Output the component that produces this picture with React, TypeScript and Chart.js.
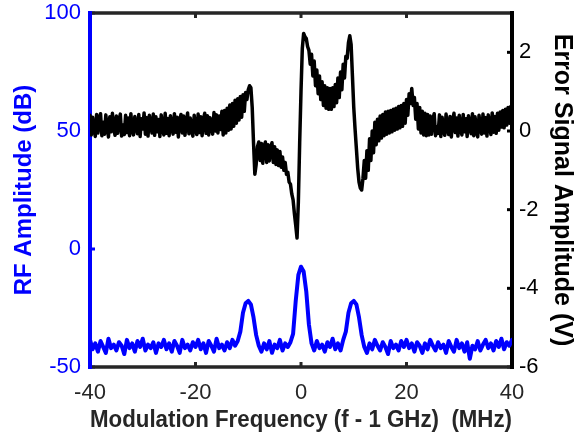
import React, { useEffect, useRef } from 'react';
import { Chart, registerables } from 'chart.js';

Chart.register(...registerables);

// Sampling grids (MHz): error trace every 0.25 MHz, RF trace every 0.5 MHz, both from -40 to 40
const FREQ_START = -40;
const ERR_STEP = 0.25;
const RF_STEP = 0.5;

// Error signal amplitude (V), one value per 0.25 MHz
const ERROR_V = [
  // -40 .. -15.25
  0.40, -0.10, 0.35, 0.05, -0.14, 0.42, -0.05, 0.30, 0.44, -0.12,
  0.22, -0.08, 0.41, 0.10, -0.15, 0.36, -0.02, 0.45, 0.08, -0.11,
  0.38, -0.06, 0.28, 0.43, -0.13, 0.15, -0.09, 0.40, -0.04, 0.33,
  -0.12, 0.44, 0.02, -0.10, 0.37, 0.12, -0.07, 0.42, -0.14, 0.31,
  0.05, 0.46, -0.08, 0.34, -0.13, 0.40, 0.18, -0.05, 0.43, -0.11,
  0.36, -0.02, 0.29, -0.14, 0.41, 0.07, -0.10, 0.45, -0.06, 0.32,
  -0.12, 0.39, 0.10, -0.08, 0.44, -0.03, 0.35, -0.15, 0.27, 0.42,
  -0.05, 0.38, -0.11, 0.20, 0.46, -0.07, 0.33, 0.02, -0.13, 0.40,
  0.08, -0.09, 0.43, -0.04, 0.36, -0.12, 0.30, 0.45, -0.06, 0.39,
  -0.10, 0.34, 0.12, -0.08, 0.47, 0.00, 0.41, -0.05, 0.38, 0.04,
  // -15 .. -10.25
  0.50, -0.10, 0.52, -0.05, 0.58, 0.02, 0.66, 0.05, 0.70, 0.12,
  0.78, 0.20, 0.82, 0.28, 0.88, 0.35, 0.92, 0.50, 0.98, 0.80,
  // -10 .. -8.25
  1.05, 1.15, 1.10, 0.60, -0.30, -1.10, -0.85, -0.40,
  // -8 .. -3.25
  -0.28, -0.75, -0.32, -0.82, -0.38, -0.28, -0.80, -0.35, -0.76, -0.42,
  -0.30, -0.80, -0.40, -0.85, -0.48, -0.88, -0.52, -0.92, -0.66, -1.00,
  // -3 .. -0.75
  -0.80, -1.10, -1.05, -1.30, -1.35, -1.60, -1.75, -2.10, -2.40, -2.72,
  // -0.5 .. 1.75
  -1.80, -0.30, 1.00, 2.10, 2.48, 2.40, 2.35, 2.15, 2.05, 1.70,
  // 2 .. 24.25
  1.95, 1.40, 1.78, 1.15, 1.55, 0.95, 1.40, 0.80, 1.25, 0.65,
  1.15, 0.58, 1.10, 0.55, 1.08, 0.55, 1.10, 0.62, 1.18, 0.72,
  1.35, 0.85, 1.50, 1.05, 1.70, 1.35, 1.90, 1.85, 2.25, 2.42,
  2.20, 1.40, 0.60, 0.05, -0.45, -0.95, -1.30, -1.45, -1.50, -1.20,
  -0.75, -1.20, -0.50, -1.00, -0.20, -0.75, 0.00, -0.55, 0.22, -0.35,
  0.30, -0.25, 0.38, -0.18, 0.42, -0.12, 0.48, -0.08, 0.50, -0.05,
  0.52, -0.02, 0.55, 0.02, 0.58, 0.05, 0.62, 0.08, 0.65, 0.12,
  0.70, 0.20, 0.80, 0.40, 0.95, 0.70, 1.08, 0.65, 0.85, 0.30,
  0.70, 0.05, 0.60, -0.05, 0.50, -0.10, 0.45, -0.12, 0.42, -0.10,
  // 24.5 .. 37.25
  0.38, -0.08, 0.30, 0.44, -0.12, 0.10, -0.06, 0.41, -0.14, 0.35,
  0.02, -0.11, 0.43, 0.08, -0.09, 0.37, -0.15, 0.28, 0.45, -0.04,
  0.33, -0.13, 0.40, 0.06, -0.10, 0.42, -0.02, 0.31, -0.14, 0.39,
  0.12, -0.07, 0.44, -0.12, 0.36, 0.00, -0.15, 0.40, 0.07, -0.08,
  0.43, -0.05, 0.34, -0.13, 0.41, 0.15, -0.09, 0.46, -0.03, 0.37,
  -0.06, 0.45,
  // 37.5 .. 40
  0.02, 0.48, 0.10, 0.52, 0.08, 0.55, 0.15, 0.60, 0.20, 0.62, 0.40,
];

// RF amplitude (dB), one value per 0.5 MHz
const RF_DB = [
  -38.5, -42.5, -40.0, -43.5, -39.0, -41.5, -44.0, -38.0, -42.0, -40.5,
  -43.0, -39.5, -41.0, -44.5, -38.5, -42.0, -40.0, -43.5, -39.0, -41.5,
  -38.0, -43.0, -40.5, -42.0, -39.5, -44.0, -40.0, -41.5, -38.5, -42.5,
  -40.0, -43.5, -39.0, -41.0, -44.0, -38.5, -42.0, -40.5, -43.0, -39.5,
  -41.5, -38.5, -42.5, -40.0, -44.0, -39.0, -41.0, -43.5, -38.0, -42.0,
  -40.5, -43.0, -39.5, -42.0, -38.5, -41.0, -39.0, -35.0, -27.0, -23.0,
  -22.0, -23.5, -29.0, -36.5, -41.0, -43.5, -40.0, -42.5, -39.0, -44.0,
  -40.5, -42.0, -38.5, -43.0, -40.0, -41.5, -39.5, -36.0, -22.0, -11.0,
  -7.5, -9.5, -18.0, -32.0, -40.0, -43.0, -39.0, -42.0, -40.5, -43.5,
  -39.5, -41.5, -38.0, -42.5, -40.0, -43.0, -38.5, -35.0, -27.0, -23.0,
  -22.0, -23.5, -29.0, -36.5, -41.5, -44.0, -40.0, -42.5, -38.5, -41.0,
  -43.0, -39.5, -41.5, -44.5, -39.0, -42.0, -40.5, -43.0, -39.0, -41.5,
  -38.5, -42.0, -40.0, -43.5, -39.5, -41.0, -44.0, -40.0, -42.5, -38.5,
  -41.0, -43.0, -39.5, -42.0, -40.5, -44.0, -39.0, -41.5, -43.5, -38.5,
  -42.0, -40.0, -43.5, -39.5, -46.5, -41.0, -42.5, -39.0, -43.0, -40.5,
  -38.5, -42.0, -40.0, -43.0, -39.0, -41.5, -38.0, -42.5, -39.5, -41.0, -38.5,
];

const X_TICKS = [-40, -20, 0, 20, 40];
const LEFT_TICKS = [-50, 0, 50, 100];
const RIGHT_TICKS = [-6, -4, -2, 0, 2];

const X_TITLE = 'Modulation Frequency (f - 1 GHz)  (MHz)';
const LEFT_TITLE = 'RF Amplitude (dB)';
const RIGHT_TITLE = 'Error Signal Amplitude (V)';

const FONT = "'Liberation Sans', Arial, Helvetica, sans-serif";
const BLUE = '#0000ff';
const GRAY = '#262626';

const framePlugin = {
  id: 'frame',
  beforeDatasetsDraw(chart: any) {
    const { ctx, chartArea: a, scales } = chart;
    ctx.save();
    ctx.lineCap = 'butt';
    const tick = 5;
    ctx.lineWidth = 3;
    ctx.strokeStyle = GRAY;
    for (const v of X_TICKS) {
      const px = scales.x.getPixelForValue(v);
      ctx.beginPath();
      ctx.moveTo(px, a.bottom);
      ctx.lineTo(px, a.bottom - tick);
      ctx.moveTo(px, a.top);
      ctx.lineTo(px, a.top + tick);
      ctx.stroke();
    }
    ctx.strokeStyle = BLUE;
    for (const v of LEFT_TICKS) {
      const py = scales.y.getPixelForValue(v);
      ctx.beginPath();
      ctx.moveTo(a.left, py);
      ctx.lineTo(a.left + tick, py);
      ctx.stroke();
    }
    ctx.strokeStyle = '#000';
    for (const v of RIGHT_TICKS) {
      const py = scales.y2.getPixelForValue(v);
      ctx.beginPath();
      ctx.moveTo(a.right, py);
      ctx.lineTo(a.right - tick, py);
      ctx.stroke();
    }
    ctx.lineWidth = 3.5;
    ctx.strokeStyle = GRAY;
    ctx.beginPath();
    ctx.moveTo(a.left, a.top);
    ctx.lineTo(a.right, a.top);
    ctx.moveTo(a.left, a.bottom);
    ctx.lineTo(a.right, a.bottom);
    ctx.stroke();
    ctx.lineWidth = 4;
    ctx.strokeStyle = BLUE;
    ctx.beginPath();
    ctx.moveTo(a.left, a.top - 2);
    ctx.lineTo(a.left, a.bottom + 2);
    ctx.stroke();
    ctx.strokeStyle = '#000';
    ctx.beginPath();
    ctx.moveTo(a.right, a.top - 2);
    ctx.lineTo(a.right, a.bottom + 2);
    ctx.stroke();
    ctx.restore();
  },
};

const noVPad = (s: any) => {
  s.paddingTop = 0;
  s.paddingBottom = 0;
};

export default function App() {
  const canvasRef = useRef<HTMLCanvasElement | null>(null);

  useEffect(() => {
    document.body.style.margin = '0';
    const canvas = canvasRef.current;
    if (!canvas) return;

    const errorData = ERROR_V.map((v, i) => ({ x: FREQ_START + i * ERR_STEP, y: v }));
    const rfData = RF_DB.map((v, i) => ({ x: FREQ_START + i * RF_STEP, y: v }));

    const chart = new Chart(canvas, {
      type: 'line',
      data: {
        datasets: [
          {
            label: 'Error signal',
            data: errorData,
            yAxisID: 'y2',
            borderColor: '#000000',
            borderWidth: 3.5,
            pointRadius: 0,
            tension: 0,
            borderJoinStyle: 'round',
            borderCapStyle: 'round',
          },
          {
            label: 'RF amplitude',
            data: rfData,
            yAxisID: 'y',
            borderColor: BLUE,
            borderWidth: 4,
            pointRadius: 0,
            tension: 0,
            borderJoinStyle: 'round',
            borderCapStyle: 'round',
          },
        ],
      },
      options: {
        responsive: false,
        animation: false,
        layout: { padding: { top: 13, left: 0, right: 0, bottom: 0 } },
        plugins: {
          legend: { display: false },
          tooltip: { enabled: false },
        },
        scales: {
          x: {
            type: 'linear',
            min: -40,
            max: 40,
            grid: { display: false, drawTicks: false },
            border: { display: false },
            afterBuildTicks: (s: any) => {
              s.ticks = X_TICKS.map((value) => ({ value }));
            },
            afterFit: (s: any) => {
              s.height = 69;
              s.paddingLeft = 0;
              s.paddingRight = 0;
            },
            ticks: {
              color: GRAY,
              font: { family: FONT, size: 22 },
              padding: 13,
              maxRotation: 0,
            },
            title: {
              display: true,
              text: X_TITLE,
              color: GRAY,
              font: { family: FONT, size: 23, weight: 'bold' },
              padding: { top: 0, bottom: 2 },
            },
          },
          y: {
            type: 'linear',
            position: 'left',
            min: -50,
            max: 100,
            grid: { display: false, drawTicks: false },
            border: { display: false },
            afterBuildTicks: (s: any) => {
              s.ticks = LEFT_TICKS.map((value) => ({ value }));
            },
            afterFit: (s: any) => {
              s.width = 90;
              noVPad(s);
            },
            ticks: {
              color: BLUE,
              font: { family: FONT, size: 22 },
              padding: 9,
            },
            title: {
              display: true,
              text: LEFT_TITLE,
              color: BLUE,
              font: { family: FONT, size: 24, weight: 'bold' },
              padding: { top: 10, bottom: 0 },
            },
          },
          y2: {
            type: 'linear',
            position: 'right',
            min: -6,
            max: 3,
            grid: { display: false, drawTicks: false },
            border: { display: false },
            afterBuildTicks: (s: any) => {
              s.ticks = RIGHT_TICKS.map((value) => ({ value }));
            },
            afterFit: (s: any) => {
              s.width = 65;
              noVPad(s);
            },
            ticks: {
              color: '#000000',
              font: { family: FONT, size: 22 },
              padding: 7,
            },
            title: {
              display: true,
              text: RIGHT_TITLE,
              color: '#000000',
              font: { family: FONT, size: 25, weight: 'bold' },
              padding: { top: 0, bottom: 0 },
            },
          },
        },
      },
      plugins: [framePlugin],
    } as any);

    return () => {
      chart.destroy();
    };
  }, []);

  return (
    <div style={{ width: 577, height: 436, position: 'relative' }}>
      <canvas ref={canvasRef} width={577} height={436} />
    </div>
  );
}
